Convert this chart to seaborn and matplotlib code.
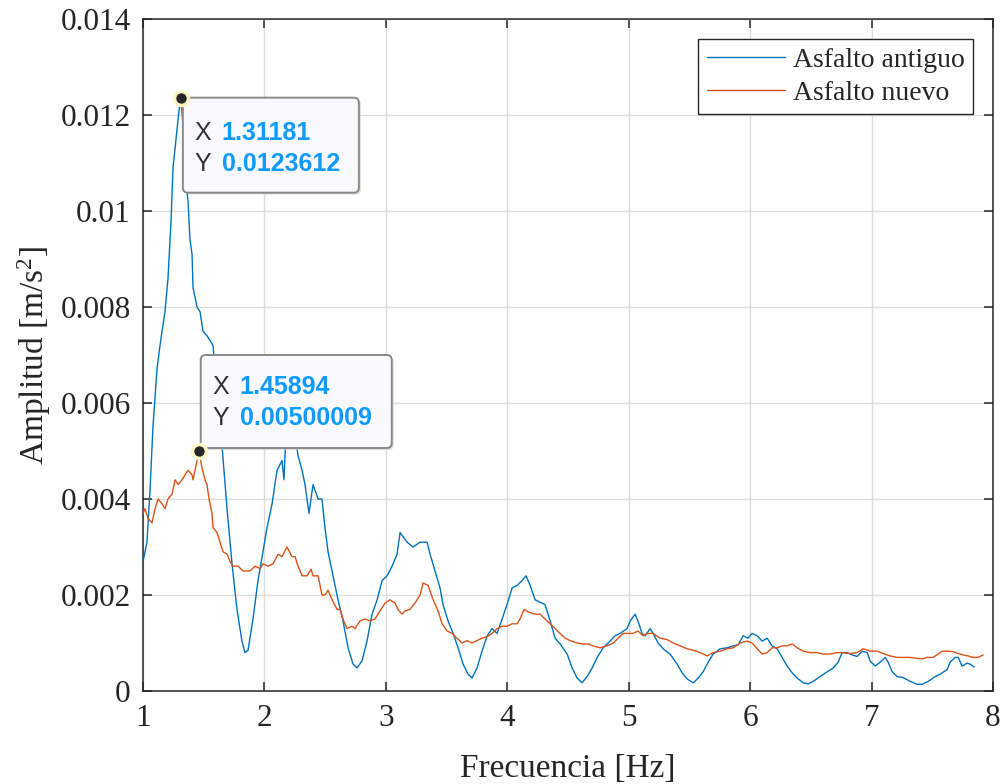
import numpy as np
import pandas as pd
import matplotlib
matplotlib.use("Agg")
import matplotlib.pyplot as plt
import matplotlib.transforms as mtransforms
from matplotlib.patches import FancyBboxPatch
import seaborn as sns

# Espectro de amplitud, asfalto antiguo
freq_antiguo = [
    1.000, 1.033, 1.058, 1.082, 1.115, 1.140, 1.157, 1.181, 1.206, 1.231,
    1.247, 1.264, 1.280, 1.297, 1.31181, 1.329, 1.346, 1.362, 1.371, 1.387,
    1.404, 1.412, 1.445, 1.470, 1.494, 1.527, 1.552, 1.577, 1.610, 1.651,
    1.692, 1.733, 1.774, 1.815, 1.840, 1.865, 1.906, 1.947, 1.988, 2.021,
    2.063, 2.104, 2.145, 2.161, 2.178, 2.211, 2.244, 2.277, 2.310, 2.334,
    2.367, 2.400, 2.442, 2.474, 2.499, 2.524, 2.565, 2.606, 2.647, 2.689,
    2.730, 2.763, 2.804, 2.845, 2.886, 2.928, 2.969, 3.010, 3.051, 3.092,
    3.117, 3.175, 3.224, 3.282, 3.339, 3.364, 3.405, 3.446, 3.471, 3.512,
    3.554, 3.595, 3.636, 3.677, 3.710, 3.751, 3.792, 3.834, 3.875, 3.916,
    3.957, 3.998, 4.040, 4.081, 4.122, 4.155, 4.188, 4.229, 4.270, 4.311,
    4.353, 4.394, 4.435, 4.493, 4.534, 4.575, 4.616, 4.657, 4.699, 4.740,
    4.789, 4.847, 4.888, 4.929, 4.987, 5.012, 5.053, 5.077, 5.110, 5.135,
    5.176, 5.201, 5.242, 5.283, 5.341, 5.399, 5.440, 5.481, 5.531, 5.572,
    5.613, 5.654, 5.695, 5.753, 5.811, 5.860, 5.901, 5.942, 5.983, 6.016,
    6.058, 6.099, 6.140, 6.181, 6.222, 6.264, 6.305, 6.346, 6.387, 6.437,
    6.478, 6.519, 6.577, 6.634, 6.684, 6.725, 6.758, 6.799, 6.841, 6.882,
    6.923, 6.964, 6.989, 7.030, 7.071, 7.112, 7.137, 7.170, 7.211, 7.260,
    7.318, 7.376, 7.417, 7.466, 7.524, 7.565, 7.623, 7.647, 7.689, 7.713,
    7.746, 7.787, 7.812, 7.845,
]
amp_antiguo = [
    0.0027, 0.0031, 0.0042, 0.0055, 0.0067, 0.0072, 0.0075, 0.0079, 0.0086, 0.0098,
    0.0109, 0.0113, 0.0117, 0.0121, 0.0123612, 0.0118, 0.0110, 0.0104, 0.0102, 0.0094,
    0.0091, 0.0084, 0.0080, 0.0079, 0.0075, 0.0074, 0.0073, 0.0072, 0.0061, 0.0051,
    0.0038, 0.00265, 0.0017, 0.00104, 0.0008, 0.00085, 0.0015, 0.0023, 0.0029, 0.0034,
    0.0039, 0.0046, 0.0048, 0.0044, 0.0054, 0.0057, 0.0055, 0.0049, 0.0046, 0.0043,
    0.0037, 0.0043, 0.0040, 0.0040, 0.0034, 0.0029, 0.0024, 0.0019, 0.00146, 0.0009,
    0.00056, 0.00048, 0.00063, 0.00104, 0.0016, 0.0019, 0.0023, 0.0024, 0.0026, 0.00285,
    0.0033, 0.0031, 0.0030, 0.0031, 0.0031, 0.00285, 0.0025, 0.00215, 0.0018, 0.00146,
    0.0012, 0.0009, 0.00056, 0.00035, 0.00027, 0.00048, 0.00083, 0.00115, 0.0013, 0.0012,
    0.0015, 0.0018, 0.00215, 0.0022, 0.0023, 0.0024, 0.0022, 0.0019, 0.00185, 0.0018,
    0.00146, 0.0011, 0.00098, 0.00077, 0.00048, 0.00027, 0.00017, 0.0003, 0.00048, 0.0007,
    0.0009, 0.00104, 0.00115, 0.0012, 0.0013, 0.00146, 0.0016, 0.00145, 0.0012, 0.00115,
    0.0013, 0.0012, 0.0010, 0.00088, 0.00077, 0.00056, 0.00038, 0.00025, 0.00017, 0.00027,
    0.0004, 0.0006, 0.00077, 0.00088, 0.0009, 0.00094, 0.00096, 0.00115, 0.0011, 0.0012,
    0.00115, 0.00104, 0.0011, 0.00094, 0.00088, 0.0007, 0.00052, 0.00038, 0.00027, 0.00017,
    0.00015, 0.0002, 0.0003, 0.0004, 0.00048, 0.0006, 0.0008, 0.0008, 0.00075, 0.00072,
    0.00083, 0.0008, 0.00062, 0.00052, 0.0006, 0.0007, 0.0006, 0.0004, 0.0003, 0.00028,
    0.0002, 0.00014, 0.00014, 0.0002, 0.0003, 0.00035, 0.00045, 0.0006, 0.0007, 0.0007,
    0.00052, 0.00058, 0.00056, 0.0005,
]

# Espectro de amplitud, asfalto nuevo
freq_nuevo = [
    1.000, 1.016, 1.041, 1.074, 1.099, 1.124, 1.157, 1.181, 1.206, 1.239,
    1.264, 1.289, 1.321, 1.346, 1.371, 1.404, 1.412, 1.445, 1.45894, 1.486,
    1.511, 1.527, 1.544, 1.568, 1.577, 1.610, 1.634, 1.659, 1.692, 1.717,
    1.741, 1.783, 1.824, 1.881, 1.923, 1.964, 1.988, 2.030, 2.071, 2.112,
    2.145, 2.186, 2.227, 2.252, 2.277, 2.310, 2.351, 2.384, 2.400, 2.442,
    2.474, 2.499, 2.524, 2.557, 2.598, 2.623, 2.647, 2.680, 2.722, 2.746,
    2.787, 2.829, 2.870, 2.911, 2.952, 2.993, 3.035, 3.076, 3.100, 3.133,
    3.158, 3.199, 3.240, 3.282, 3.306, 3.348, 3.389, 3.430, 3.463, 3.504,
    3.545, 3.587, 3.628, 3.669, 3.710, 3.751, 3.792, 3.834, 3.875, 3.916,
    3.957, 3.998, 4.040, 4.081, 4.105, 4.138, 4.171, 4.229, 4.270, 4.311,
    4.353, 4.394, 4.435, 4.476, 4.517, 4.575, 4.624, 4.666, 4.707, 4.764,
    4.822, 4.872, 4.913, 4.954, 4.995, 5.036, 5.077, 5.119, 5.160, 5.201,
    5.259, 5.316, 5.366, 5.424, 5.481, 5.531, 5.588, 5.646, 5.695, 5.753,
    5.811, 5.860, 5.918, 5.975, 6.016, 6.058, 6.099, 6.140, 6.181, 6.222,
    6.264, 6.305, 6.346, 6.387, 6.437, 6.494, 6.552, 6.601, 6.659, 6.717,
    6.766, 6.824, 6.882, 6.931, 6.989, 7.046, 7.096, 7.153, 7.211, 7.260,
    7.318, 7.376, 7.417, 7.458, 7.507, 7.549, 7.582, 7.623, 7.672, 7.713,
    7.755, 7.796, 7.837, 7.878, 7.919,
]
amp_nuevo = [
    0.0037, 0.0038, 0.0036, 0.0035, 0.0038, 0.0040, 0.0039, 0.0038, 0.0040, 0.0041,
    0.0044, 0.0043, 0.0044, 0.0045, 0.0046, 0.0045, 0.0044, 0.0048, 0.00500009, 0.00465,
    0.0044, 0.0043, 0.0040, 0.0037, 0.0034, 0.0033, 0.0031, 0.0029, 0.00285, 0.0027,
    0.0026, 0.0026, 0.0025, 0.0025, 0.0026, 0.00255, 0.00265, 0.0026, 0.00265, 0.00285,
    0.0028, 0.0030, 0.0028, 0.0028, 0.0026, 0.0024, 0.0024, 0.00254, 0.0024, 0.0024,
    0.0020, 0.0020, 0.0021, 0.0019, 0.0017, 0.0017, 0.0015, 0.0013, 0.00135, 0.0013,
    0.00146, 0.0015, 0.00146, 0.0015, 0.00167, 0.00183, 0.0019, 0.00183, 0.0017, 0.0016,
    0.00167, 0.0017, 0.00183, 0.0020, 0.00225, 0.0022, 0.0019, 0.00167, 0.0014, 0.00125,
    0.0012, 0.0011, 0.0010, 0.00105, 0.0010, 0.00105, 0.0011, 0.00113, 0.0012, 0.0013,
    0.00135, 0.00135, 0.0014, 0.0014, 0.0015, 0.0017, 0.00165, 0.0016, 0.0016, 0.0015,
    0.0014, 0.0013, 0.0012, 0.0011, 0.00105, 0.0010, 0.00098, 0.00098, 0.00094, 0.0009,
    0.00094, 0.0010, 0.0011, 0.0012, 0.0012, 0.0012, 0.00125, 0.00115, 0.0012, 0.0012,
    0.0011, 0.00107, 0.0010, 0.00094, 0.00088, 0.00085, 0.0008, 0.00073, 0.0008, 0.00083,
    0.00088, 0.0009, 0.0010, 0.00104, 0.0010, 0.00088, 0.00077, 0.0008, 0.0009, 0.0009,
    0.00094, 0.00094, 0.00098, 0.0009, 0.00083, 0.0008, 0.0008, 0.00077, 0.00077, 0.0008,
    0.0008, 0.00078, 0.0008, 0.00088, 0.00083, 0.00083, 0.00078, 0.00073, 0.0007, 0.0007,
    0.0007, 0.00068, 0.00067, 0.0007, 0.0007, 0.00077, 0.00083, 0.00083, 0.00082, 0.00078,
    0.00075, 0.00073, 0.0007, 0.0007, 0.00075,
]

series_names = ["Asfalto antiguo", "Asfalto nuevo"]
series_colors = ["#0072BD", "#D95319"]

# Puntos señalados con su etiqueta de datos
tip_points = [(1.31181, 0.0123612), (1.45894, 0.00500009)]
tip_labels = [("1.31181", "0.0123612"), ("1.45894", "0.00500009")]

x_ticks = [1, 2, 3, 4, 5, 6, 7, 8]
y_ticks = [0, 0.002, 0.004, 0.006, 0.008, 0.01, 0.012, 0.014]
y_tick_labels = ["0", "0.002", "0.004", "0.006", "0.008", "0.01", "0.012", "0.014"]

sns.set_style("ticks")
plt.rcParams["font.family"] = ["Liberation Serif", "DejaVu Serif"]
plt.rcParams["mathtext.fontset"] = "custom"
plt.rcParams["mathtext.rm"] = "Liberation Serif"
plt.rcParams["mathtext.it"] = "Liberation Serif:italic"

df = pd.concat([
    pd.DataFrame({"Frecuencia": freq_antiguo, "Amplitud": amp_antiguo, "Serie": series_names[0]}),
    pd.DataFrame({"Frecuencia": freq_nuevo, "Amplitud": amp_nuevo, "Serie": series_names[1]}),
], ignore_index=True)

fig = plt.figure(figsize=(10.05, 7.84), dpi=100)
ax = fig.add_axes([143 / 1005, 1 - 691 / 784, 850 / 1005, 672 / 784])

sns.lineplot(data=df, x="Frecuencia", y="Amplitud", hue="Serie",
             hue_order=series_names, palette=series_colors,
             estimator=None, sort=False, linewidth=1.0, ax=ax, zorder=3)

ax.set_xlim(1, 8)
ax.set_ylim(0, 0.014)
ax.set_xticks(x_ticks)
ax.set_xticklabels([str(t) for t in x_ticks])
ax.set_yticks(y_ticks)
ax.set_yticklabels(y_tick_labels)
ax.grid(True, color="#dcdcdc", linewidth=1.0)
ax.set_axisbelow(True)
for sp in ax.spines.values():
    sp.set_visible(True)
    sp.set_color("#262626")
    sp.set_linewidth(1.1)
ax.tick_params(direction="in", length=6.5, width=1.1, colors="#262626",
               labelsize=22.5, top=True, right=True, pad=9)
for lbl in ax.get_xticklabels() + ax.get_yticklabels():
    lbl.set_color("#262626")

ax.set_xlabel("Frecuencia [Hz]", fontsize=24, color="#262626", labelpad=15)
ax.set_ylabel(r"Amplitud [m/s$^\mathrm{2}$]", fontsize=24, color="#262626", labelpad=5)

leg = ax.legend(loc="upper right", fontsize=20, frameon=True, fancybox=False,
                edgecolor="#262626", framealpha=1, borderpad=0.3, handlelength=2.8,
                handletextpad=0.3, labelspacing=0.28, borderaxespad=0.72)
leg.get_frame().set_linewidth(1.0)
for h in leg.get_lines():
    h.set_linewidth(1.0)

# Etiquetas de datos: caja, marcador y texto relativos a cada punto
tip_boxes = [(2, -95, 176, 95, 14, 41, -35, -66), (2, 3, 191, 93, 14, 41, 64, 33)]
for (fx, fy), (sx, sy), (bx, by, bw, bh, lx, vx, y1, y2) in zip(tip_points, tip_labels, tip_boxes):
    anchor = mtransforms.ScaledTranslation(fx, fy, ax.transData)
    pix = mtransforms.Affine2D() + anchor
    shadow = FancyBboxPatch((bx + 2, by - 2), bw, bh,
                            boxstyle="round,pad=0,rounding_size=5",
                            transform=pix, facecolor="#c8c8c8", edgecolor="none",
                            alpha=0.6, zorder=5, clip_on=False)
    box = FancyBboxPatch((bx, by), bw, bh, boxstyle="round,pad=0,rounding_size=5",
                         transform=pix, facecolor="#f9f9ff", edgecolor="#8a8a8a",
                         linewidth=1.4, zorder=6, clip_on=False)
    ax.add_patch(shadow)
    ax.add_patch(box)
    for ty, name, val in [(y1, "X", sx), (y2, "Y", sy)]:
        ax.text(lx, ty, name, transform=pix, fontsize=18, color="#333333",
                family=["Liberation Sans", "DejaVu Sans"], va="center", ha="left", zorder=7)
        ax.text(vx, ty, val, transform=pix, fontsize=18, color="#0d9bff",
                family=["Liberation Sans", "DejaVu Sans"], fontweight="bold",
                va="center", ha="left", zorder=7)
    ax.plot([fx], [fy], marker="o", markersize=10, markerfacecolor="#262626",
            markeredgecolor="#fbf7c8", markeredgewidth=2.5, zorder=8, clip_on=False)

fig.savefig("out.png", dpi=100)
